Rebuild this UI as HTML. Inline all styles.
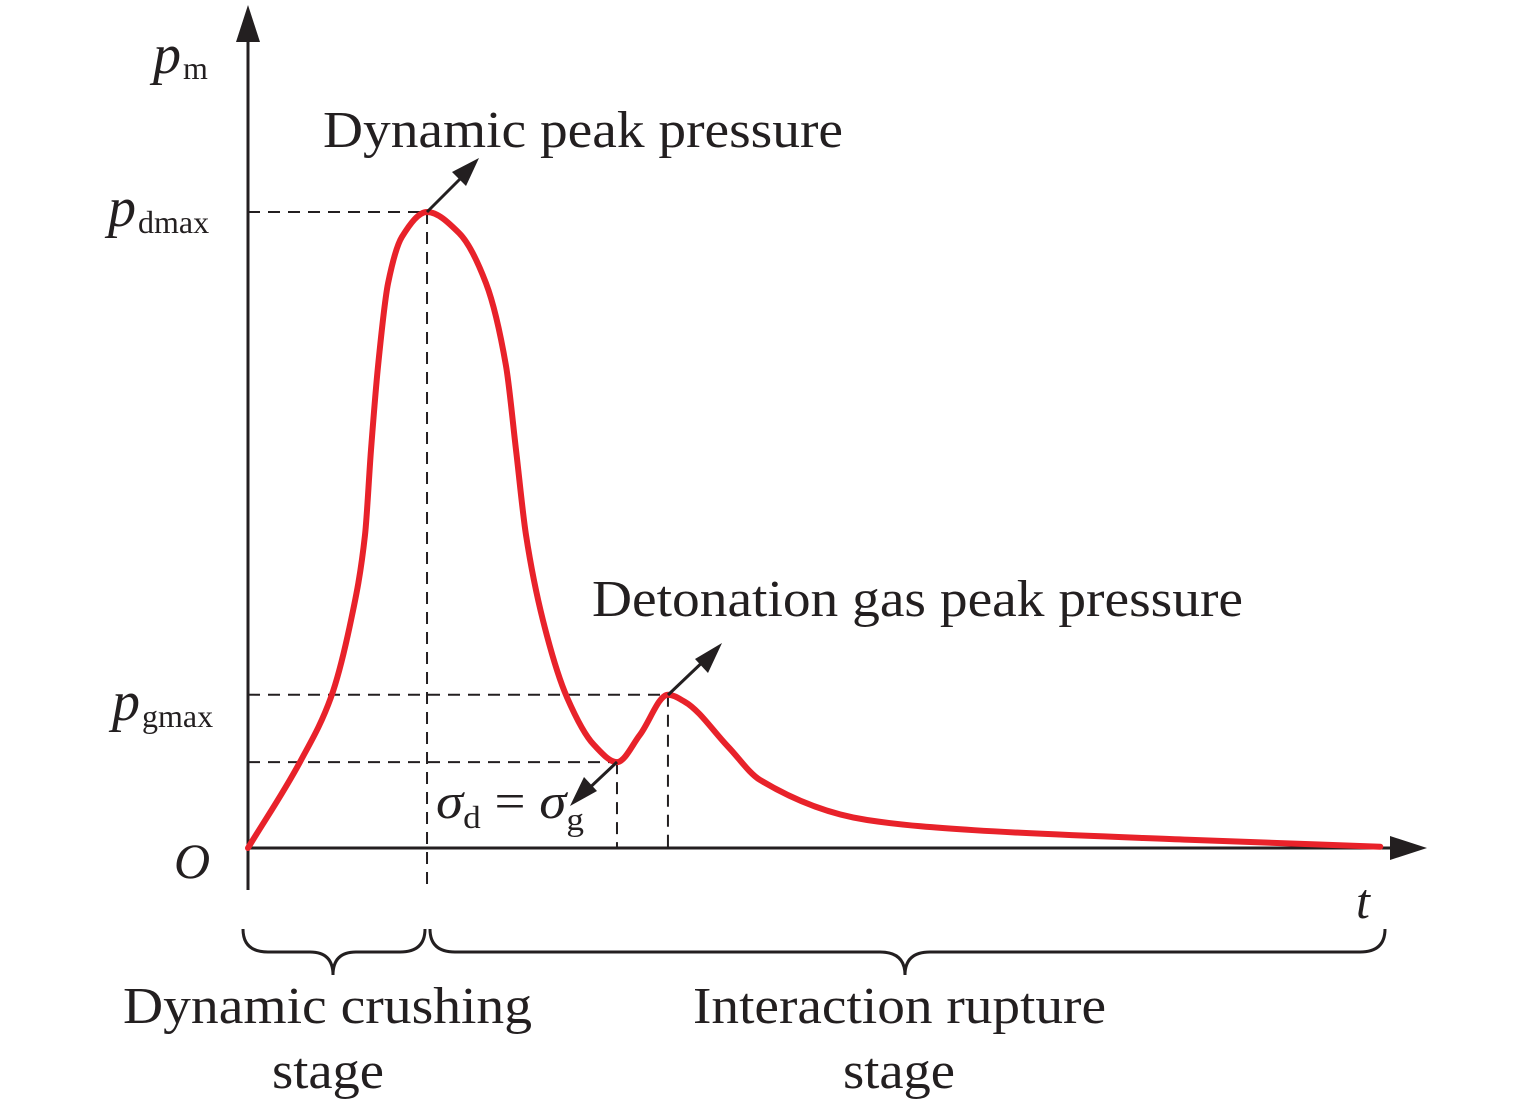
<!DOCTYPE html>
<html><head><meta charset="utf-8"><style>
html,body{margin:0;padding:0;background:#fff;}
svg{display:block;}
text{font-family:"Liberation Serif",serif;fill:#231f20;}
.it{font-style:italic;}
</style></head><body>
<svg id="chart" width="1535" height="1110" viewBox="0 0 1535 1110" xmlns="http://www.w3.org/2000/svg">
<g id="guides" stroke="#231f20" stroke-width="2" stroke-dasharray="12,8" fill="none"></g>
<g id="axes" stroke="#231f20" stroke-width="3" fill="none">
<line x1="248" y1="890" x2="248" y2="30"/>
<polygon points="248,5 236,42 260,42" fill="#231f20" stroke="none"/>
<line x1="248" y1="848" x2="1395" y2="848"/>
<polygon points="1427,848 1390,836 1390,860" fill="#231f20" stroke="none"/>
</g>
<path id="curve" fill="none" stroke="#e8222a" stroke-width="6" stroke-linecap="round" stroke-linejoin="round"/>
<g stroke="#231f20" stroke-width="3">
<line x1="427" y1="212" x2="468" y2="171"/>
<polygon points="479,158 452,172 466,186" fill="#231f20" stroke="none"/>
<line x1="668" y1="695" x2="710" y2="655"/>
<polygon points="722,643 695,659 708,673" fill="#231f20" stroke="none"/>
<line x1="617" y1="762" x2="582" y2="795"/>
<polygon points="570,806 597,791 584,777" fill="#231f20" stroke="none"/>
</g>
<g stroke="#231f20" stroke-width="3" fill="none">
<path d="M243,929 Q243,952 268,952 L310,952 Q333,952 333,975 Q333,952 356,952 L400,952 Q425,952 425,929"/>
<path d="M430,929 Q430,952 455,952 L880,952 Q905,952 905,975 Q905,952 930,952 L1360,952 Q1385,952 1385,929"/>
</g>
<text x="153" y="73" font-size="56" class="it">p<tspan font-size="32" font-style="normal" dx="2" dy="6">m</tspan></text>
<text x="108" y="226" font-size="56" class="it">p<tspan font-size="32" font-style="normal" dx="2" dy="7">dmax</tspan></text>
<text x="112" y="720" font-size="56" class="it">p<tspan font-size="32" font-style="normal" dx="2" dy="7">gmax</tspan></text>
<text x="174" y="878" font-size="50" class="it">O</text>
<text x="1356" y="918" font-size="50" class="it">t</text>
<text x="323" y="147" font-size="52" textLength="520" lengthAdjust="spacingAndGlyphs">Dynamic peak pressure</text>
<text x="592" y="616" font-size="52" textLength="651" lengthAdjust="spacingAndGlyphs">Detonation gas peak pressure</text>
<text x="436" y="818" font-size="50" textLength="148" lengthAdjust="spacingAndGlyphs"><tspan class="it">σ</tspan><tspan font-size="32" dy="10">d</tspan><tspan dy="-10"> = </tspan><tspan class="it">σ</tspan><tspan font-size="32" dy="12">g</tspan></text>
<text x="123" y="1023" font-size="52" textLength="409" lengthAdjust="spacingAndGlyphs">Dynamic crushing</text>
<text x="272" y="1088" font-size="52" textLength="112" lengthAdjust="spacingAndGlyphs">stage</text>
<text x="693" y="1023" font-size="52" textLength="413" lengthAdjust="spacingAndGlyphs">Interaction rupture</text>
<text x="843" y="1088" font-size="52" textLength="112" lengthAdjust="spacingAndGlyphs">stage</text>
</svg>
<script>
const tValues=[0,4.5,7.05,8.75,9.94,10.45,11.05,11.9,13.08,15.21,17.93,20.22,21.92,22.77,23.62,25.06,27.1,29.4,31.35,33.3,35.68,37.1,40.8,43.5,52.6,61.7,79.9,96.2];
const pValues=[0,13.8,23.7,35.8,49.2,62.6,75.8,88.8,96.1,100,96.7,88.8,75.8,62.6,49.2,35.8,23.7,16.2,13.5,17.8,24.1,23,15.9,10.7,4.4,2.8,1.3,0.2];
const peakT=[15.21,35.68];const peakP=[100,24.1];
const minT=[31.35];const minP=[13.5];
function xScale(t){return 248+t*11.77;}
function yScale(p){return 848-p*6.36;}
const pts=tValues.map((t,i)=>[xScale(t),yScale(pValues[i])]);
const n=pts.length,dx=[],sl=[],m=[];
for(let i=0;i<n-1;i++){dx[i]=pts[i+1][0]-pts[i][0];sl[i]=(pts[i+1][1]-pts[i][1])/dx[i];}
m[0]=sl[0];m[n-1]=sl[n-2];
for(let i=1;i<n-1;i++){m[i]=(sl[i-1]*sl[i]<=0)?0:3*(dx[i-1]+dx[i])/((2*dx[i]+dx[i-1])/sl[i-1]+(dx[i]+2*dx[i-1])/sl[i]);}
let d='M'+pts[0][0]+','+pts[0][1];
for(let i=0;i<n-1;i++){
 const h=dx[i]/3;
 d+=' C'+(pts[i][0]+h)+','+(pts[i][1]+m[i]*h)+' '+(pts[i+1][0]-h)+','+(pts[i+1][1]-m[i+1]*h)+' '+pts[i+1][0]+','+pts[i+1][1];
}
document.getElementById('curve').setAttribute('d',d);
const g=document.getElementById('guides');
const NS='http://www.w3.org/2000/svg';
function line(x1,y1,x2,y2,name){const l=document.createElementNS(NS,'line');
l.setAttribute('x1',x1);l.setAttribute('y1',y1);l.setAttribute('x2',x2);l.setAttribute('y2',y2);


g.appendChild(l);}
line(248,yScale(peakP[0]),xScale(peakT[0]),yScale(peakP[0]),'pdmax-guide');
line(xScale(peakT[0]),yScale(peakP[0]),xScale(peakT[0]),890,'stage-divider');
line(248,yScale(peakP[1]),xScale(peakT[1]),yScale(peakP[1]),'pgmax-guide');
line(xScale(peakT[1]),yScale(peakP[1]),xScale(peakT[1]),848,'gas-peak-guide');
line(248,yScale(minP[0]),xScale(minT[0]),yScale(minP[0]),'sigma-guide');
line(xScale(minT[0]),yScale(minP[0]),xScale(minT[0]),848,'sigma-vertical-guide');
</script>
</body></html>
